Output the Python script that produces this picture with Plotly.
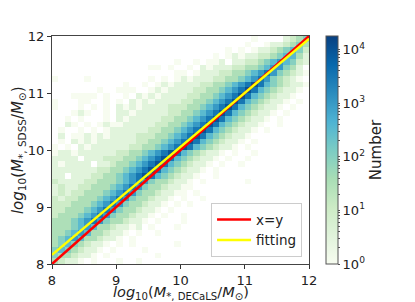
import numpy as np
import plotly.graph_objects as go

# 2D histogram: 40x40 bins of 0.1 dex, rows listed from top (y=11.95) to bottom (y=8.05)
# each char is a level d -> count = 10**(d/2); '.' = empty bin
BIN_EDGES_START = 8.0
BIN_WIDTH = 0.1
HIST_ROWS = [
    "..... ..... ..... ..... ..... ..... .0... .1234",
    "..... ..... ..... ..... ..... ..... 0..01 12343",
    "..... ..... ..... ..... ..... ..0.0 .0112 34542",
    "..... ..... ..... ..... ..... 0.010 11223 45531",
    "..... ..... ..... ....0 ..0.0 01.11 22345 65421",
    "..... ..... ..... 00.0. .0.10 11122 33456 6431.",
    "..... ..... ..... ....0 0.011 12233 45676 43210",
    "0.... 0.... ..... 0.0.0 10111 22334 56764 3210.",
    "..... ..... .0..0 .0101 11122 33456 78754 32110",
    "..... ..0.. 000.. 01011 11223 34567 87543 2110.",
    "...00 00.0. .0.10 10111 12233 45678 75432 110..",
    "0...0 0..0. 0.101 01111 22334 56787 54321 10.0.",
    "0...0 .0.0. 10101 11122 23345 67875 43211 0.0..",
    "...01 0..0. 11011 11122 33456 78754 32110 .0...",
    "..0.0 ...0. 10111 11223 34567 87543 2110. 0....",
    "..10. 0.010 01111 12233 45678 75432 110.. 0....",
    ".0..0 .0.01 11111 22334 56787 54321 10.0. .....",
    ".1.00 10101 11122 23345 67875 43211 0.... .....",
    ".0.10 10111 11122 33456 78754 32110 .0... .....",
    "0.0.1 01111 11223 34567 87543 2110. 0.... .....",
    "01101 11111 22334 56787 54321 10.0. .0... .....",
    "1111. 11122 23345 67875 43211 0.0.. 0.... .....",
    "10111 1.112 33456 78754 32110 .0..0 ..... .....",
    "11111 11223 34567 87543 2110. 0.... ..... .....",
    "11.11 12233 45678 75432 110.. 0.... ..... .....",
    "21111 22333 45676 43321 10.0. ..... 0.... .....",
    "12112 23334 56764 33211 00... ..... ..... .....",
    "12122 33345 67643 32110 0.0.. ..... ..... .....",
    "21223 33456 76433 2110. 0..0. ..... ..... .....",
    "22233 34567 64332 110.0 .0... ..... ..... .....",
    "22333 45676 43321 10.0. ..... ..... ..... .....",
    "23334 56764 33211 0.0.. 0.... ..... ..... .....",
    "33345 67643 32110 .0... 0.... ..... ..... .....",
    "33345 65332 1101. 0...0 ..... ..... ..... .....",
    "33456 53321 10.0. .0... ..... ..... ..... .....",
    "34565 33211 0.0.. ..... ..... ..... ..... .....",
    "34543 2110. 0.0.. ....0 ..... ..... ..... .....",
    "45432 110.0 ....0 ..... ..... ..... ..... .....",
    "43321 10.0. ..... .0... ..... ..... ..... .....",
    "32110 .0... 0..0. ..... ..... ..... ..... .....",
]

LINE_X = [8, 12]
LINE_Y = [8, 12]
FIT_X = [8, 12]
FIT_Y = [8.16, 11.95]

AXIS_TICKS = [8, 9, 10, 11, 12]
CBAR_MAJOR = [0, 1, 2, 3, 4]
CBAR_MAX = 4.25

X_TITLE = "<i>log</i><sub>10</sub>(<i>M</i><sub>*, DECaLS</sub>/<i>M</i><sub>⊙</sub>)"
Y_TITLE = "<i>log</i><sub>10</sub>(<i>M</i><sub>*, SDSS</sub>/<i>M</i><sub>⊙</sub>)"

# decode table (bottom row first for plotly)
z = []
for row in reversed(HIST_ROWS):
    s = row.replace(" ", "")
    z.append([None if c == "." else int(c) / 2.0 for c in s])

nb = len(z[0])
centers = [BIN_EDGES_START + BIN_WIDTH * (i + 0.5) for i in range(nb)]

# colorbar ticks: majors labelled, minors unlabeled
tickvals, ticktext = [], []
for k in CBAR_MAJOR:
    for m in range(1, 10):
        v = k + np.log10(m)
        if v <= CBAR_MAX:
            tickvals.append(v)
            ticktext.append(f"10<sup>{k}</sup>" if m == 1 else "")

fig = go.Figure()
fig.add_trace(go.Heatmap(
    z=z, x=centers, y=centers,
    colorscale="GnBu", zmin=0, zmax=CBAR_MAX,
    hoverongaps=False,
    colorbar=dict(
        x=1.066, xanchor="left", y=0.5, yanchor="middle",
        len=1.0, lenmode="fraction", thickness=12, xpad=0, ypad=0,
        outlinecolor="#555555", outlinewidth=1,
        tickmode="array", tickvals=tickvals, ticktext=ticktext,
        ticks="outside", ticklen=2, tickcolor="#555555",
        tickfont=dict(family="DejaVu Sans", size=13, color="#222222"),
        title=dict(text="Number", side="right",
                   font=dict(family="DejaVu Sans", size=15, color="#222222")),
    ),
    showlegend=False,
))
fig.add_trace(go.Scatter(x=LINE_X, y=LINE_Y, mode="lines", name="x=y",
                         line=dict(color="#ff0000", width=2.5)))
fig.add_trace(go.Scatter(x=FIT_X, y=FIT_Y, mode="lines", name="fitting",
                         line=dict(color="#ffff00", width=2.5)))

axis_common = dict(
    range=[8, 12], tickvals=AXIS_TICKS, ticks="outside", ticklen=4,
    tickcolor="#333333", showline=True, linecolor="#444444", linewidth=1,
    mirror=True, showgrid=False, zeroline=False, automargin=False,
    tickfont=dict(family="DejaVu Sans", size=13, color="#222222"),
)
# page body has an 8px margin; the figure is sized/margined to compensate
fig.update_layout(
    width=407, height=294,
    margin=dict(l=44, r=106, t=28, b=38, autoexpand=False),
    paper_bgcolor="white", plot_bgcolor="white",
    font=dict(family="DejaVu Sans", color="#222222"),
    xaxis=axis_common,
    yaxis=axis_common,
    legend=dict(x=0.973, y=0.03, xanchor="right", yanchor="bottom",
                bgcolor="rgba(255,255,255,0.8)", bordercolor="#cccccc", borderwidth=1,
                font=dict(family="DejaVu Sans", size=13.5, color="#222222"),
                itemwidth=34),
    annotations=[
        dict(text=X_TITLE, xref="paper", yref="paper", x=0.5, y=-0.126,
             xanchor="center", yanchor="middle", showarrow=False, borderpad=0,
             font=dict(family="DejaVu Sans", size=14.5, color="#222222")),
        dict(text=Y_TITLE, xref="paper", yref="paper", x=-0.132, y=0.5,
             xanchor="center", yanchor="middle", showarrow=False, textangle=-90,
             font=dict(family="DejaVu Sans", size=15, color="#222222")),
    ],
)
fig.write_html("out.html")
